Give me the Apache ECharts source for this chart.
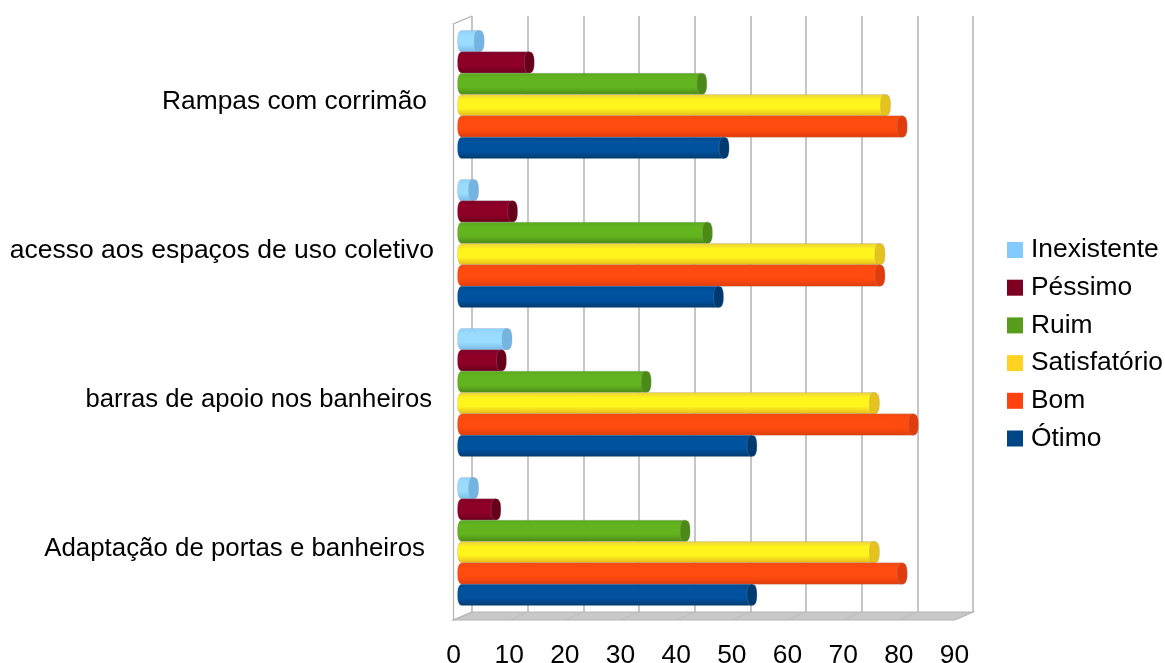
<!DOCTYPE html>
<html><head><meta charset="utf-8">
<style>html,body{margin:0;padding:0;background:#fff}#c{width:1165px;height:663px}</style>
<script src="https://cdn.jsdelivr.net/npm/echarts@6/dist/echarts.min.js"></script>
</head><body><div id="c"></div>
<script>
const categories = ['Adaptação de portas e banheiros','barras de apoio nos banheiros','acesso aos espaços de uso coletivo','Rampas com corrimão'];
const axisTicks = [0,10,20,30,40,50,60,70,80,90];
const otimo = [52,52,46,47];
const bom = [79,81,75,79];
const satisfatorio = [74,74,75,76];
const ruim = [40,33,44,43];
const pessimo = [6,7,9,12];
const inexistente = [2,8,2,3];
const seriesNames = ['Ótimo','Bom','Satisfatório','Ruim','Péssimo','Inexistente'];
const seriesValues = [otimo,bom,satisfatorio,ruim,pessimo,inexistente];
const colors = ['#004586','#ff420e','#ffd320','#579d1c','#7e0021','#83caff'];
const bodyStops = [
  ['#004a90','#00529f','#003a70'],
  ['#f24a10','#ff4b0f','#e03c0c'],
  ['#e8d040','#fff41c','#e2b81c'],
  ['#5aa81e','#63b520','#4c8a18'],
  ['#80002a','#8f0026','#68001b'],
  ['#8cd0ff','#99dcff','#78bce8']
];
const capColors = ['#003a70','#e03c0c','#e6c21c','#4c8a18','#68001b','#74b4e2'];
const labelRightGap = [9,2,0,7];
const labelFontSizes = [25.85,25.66,26.5,26.35];

const font = '"Liberation Sans", Arial, sans-serif';
const GRID_H = 596, GRID_W = 501;
const grey = '#b3b3b3';
const fs = 26.4;

function arc(cx,cy,rx,ry,a0,a1){
  const pts=[], N=24, e=0.8;
  for(let i=0;i<=N;i++){
    const a=a0+(a1-a0)*i/N, c=Math.cos(a), s=Math.sin(a);
    pts.push([cx+rx*Math.sign(c)*Math.pow(Math.abs(c),e), cy+ry*Math.sign(s)*Math.pow(Math.abs(s),e)]);
  }
  return pts;
}

function cylinder(s){
  return function(params, api){
    const p = api.coord([api.value(0), api.value(1)]);
    const p0 = api.coord([0, api.value(1)]);
    const band = api.size([0,1])[1];
    const h = band * 0.1433;
    const cy = p[1] - (s - 2.5) * h;
    const rx = 5, ry = h/2;
    const grad = new echarts.graphic.LinearGradient(0,0,0,1,[
      {offset:0,color:bodyStops[s][0]},
      {offset:0.25,color:bodyStops[s][1]},
      {offset:0.65,color:bodyStops[s][1]},
      {offset:1,color:bodyStops[s][2]}
    ]);
    const body = arc(p0[0],cy,rx,ry,Math.PI/2,Math.PI*1.5).concat([[p[0],cy-ry],[p[0],cy+ry]]);
    return {type:'group',children:[
      {type:'polygon',shape:{points:body},style:{fill:grad,stroke:'rgba(150,150,150,0.4)',lineWidth:0.6}},
      {type:'polygon',shape:{points:arc(p[0],cy,rx,ry,0,Math.PI*2)},style:{fill:capColors[s],stroke:'rgba(150,150,150,0.45)',lineWidth:0.6}}
    ]};
  };
}

function walls(params, api){
  const c = params.coordSys;
  const dx = -18.5, dy = 8;
  const b = c.y + c.height, l = c.x, r = c.x + c.width;
  const kids = [
    {type:'polygon',shape:{points:[[l,b],[r,b],[r+dx,b+dy],[l+dx,b+dy]]},style:{fill:'#c8c8c8',stroke:grey,lineWidth:1.2}},
    {type:'polyline',shape:{points:[[l,c.y],[l+dx,c.y+dy],[l+dx,b+dy],[l,b]]},style:{fill:'none',stroke:grey,lineWidth:1.2}}
  ];
  axisTicks.forEach(t=>{
    const x = api.coord([t,0])[0];
    kids.push({type:'line',shape:{x1:x,y1:b,x2:x+dx,y2:b+dy},style:{stroke:'#bdbdbd',lineWidth:1}});
  });
  return {type:'group',children:kids};
}

const rich = {};
labelRightGap.forEach((g,i)=>{ rich['g'+i] = {fontSize:labelFontSizes[i],lineHeight:32,fontFamily:font,color:'#000',padding:[7,g,0,0]}; });

const series = [{
  type:'custom',xAxisIndex:2,yAxisIndex:2,data:[[0,0]],renderItem:walls,silent:true,z:1,clip:false
}];
seriesNames.forEach((n,s)=>{
  series.push({
    name:n,type:'custom',xAxisIndex:0,yAxisIndex:0,z:5+ (5-s),clip:false,
    itemStyle:{color:colors[s]},
    encode:{x:0,y:1},
    data:seriesValues[s].map((v,i)=>[v,i]),
    renderItem:cylinder(s)
  });
});

const hiddenX = {type:'value',min:0,max:90,interval:10,axisLabel:{show:false},axisLine:{show:false},axisTick:{show:false},splitLine:{show:false}};
const hiddenY = {type:'category',data:categories,axisLabel:{show:false},axisLine:{show:false},axisTick:{show:false},splitLine:{show:false}};

const chart = echarts.init(document.getElementById('c'),null,{renderer:'canvas'});
chart.setOption({
  animation:false,
  backgroundColor:'#fff',
  textStyle:{fontFamily:font},
  grid:[
    {left:462.5,top:20,width:GRID_W,height:GRID_H,outerBoundsMode:'none'},
    {left:453.5,top:24,width:GRID_W,height:GRID_H,outerBoundsMode:'none'},
    {left:472,top:16,width:GRID_W,height:GRID_H,outerBoundsMode:'none'}
  ],
  xAxis:[
    Object.assign({gridIndex:0},hiddenX),
    Object.assign({},hiddenX,{gridIndex:1,axisLabel:{show:true,fontSize:fs,fontFamily:font,color:'#000',margin:22.5}}),
    Object.assign({},hiddenX,{gridIndex:2,splitLine:{show:true,lineStyle:{color:grey,width:1.5}}})
  ],
  yAxis:[
    Object.assign({gridIndex:0},hiddenY),
    Object.assign({},hiddenY,{gridIndex:1,axisLabel:{show:true,margin:19.5,
      formatter:(v,i)=>'{g'+i+'|'+v+'}',rich:rich}}),
    Object.assign({gridIndex:2},hiddenY)
  ],
  legend:{
    orient:'vertical',left:1002,top:232,itemWidth:16,itemHeight:16,itemGap:11.7,
    icon:'rect',selectedMode:false,
    data:seriesNames.slice().reverse(),
    textStyle:{fontSize:fs,fontFamily:font,color:'#000',padding:[0,0,0,3]}
  },
  series:series
});
</script></body></html>
